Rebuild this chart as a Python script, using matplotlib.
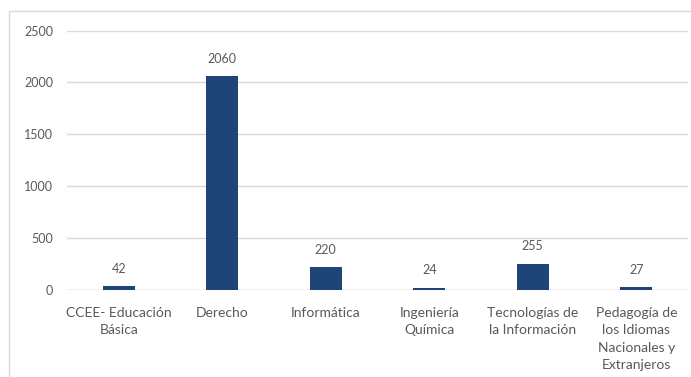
import matplotlib

matplotlib.use("Agg")
import matplotlib.pyplot as plt
from matplotlib.patches import Rectangle

carreras = [
    "CCEE- Educación\nBásica",
    "Derecho",
    "Informática",
    "Ingeniería\nQuímica",
    "Tecnologías de\nla Información",
    "Pedagogía de\nlos Idiomas\nNacionales y\nExtranjeros",
]
estudiantes = [42, 2060, 220, 24, 255, 27]
y_ticks = [0, 500, 1000, 1500, 2000, 2500]

BAR = "#1f4478"
GRID = "#d9d9d9"
TEXT = "#595959"

plt.rcParams["font.family"] = ["Lato", "DejaVu Sans"]

fig = plt.figure(figsize=(6.91, 3.77), dpi=100)
ax = fig.add_axes([67 / 691, 1 - 290 / 377, 621 / 691, 259.5 / 377])

# light chart-area frame
fig.patches.append(Rectangle((9 / 691, -0.1), 1.0, 1 - 11 / 377 + 0.1,
                             transform=fig.transFigure, fill=False,
                             edgecolor=GRID, lw=1))

x = range(len(carreras))
bars = ax.bar(x, estudiantes, width=0.31, color=BAR, zorder=3)
for b, v in zip(bars, estudiantes):
    ax.annotate(str(v), (b.get_x() + b.get_width() / 2, v),
                xytext=(0, 8), textcoords="offset points",
                ha="center", va="bottom", fontsize=9, color=TEXT)

ax.set_ylim(0, 2500)
ax.set_xlim(-0.5, len(carreras) - 0.5)
ax.set_yticks(y_ticks)
ax.set_yticklabels([str(t) for t in y_ticks])
ax.yaxis.grid(True, color=GRID, lw=1, zorder=0)
ax.set_axisbelow(True)
ax.set_xticks(list(x))
ax.set_xticklabels(carreras, linespacing=1.55)
ax.tick_params(axis="x", length=0, pad=12, labelsize=10, labelcolor=TEXT)
ax.tick_params(axis="y", length=0, pad=10, labelsize=9, labelcolor=TEXT)
for name, sp in ax.spines.items():
    sp.set_visible(False)
ax.axhline(0, color=GRID, lw=1, zorder=2)

fig.savefig("out.png", dpi=100)
